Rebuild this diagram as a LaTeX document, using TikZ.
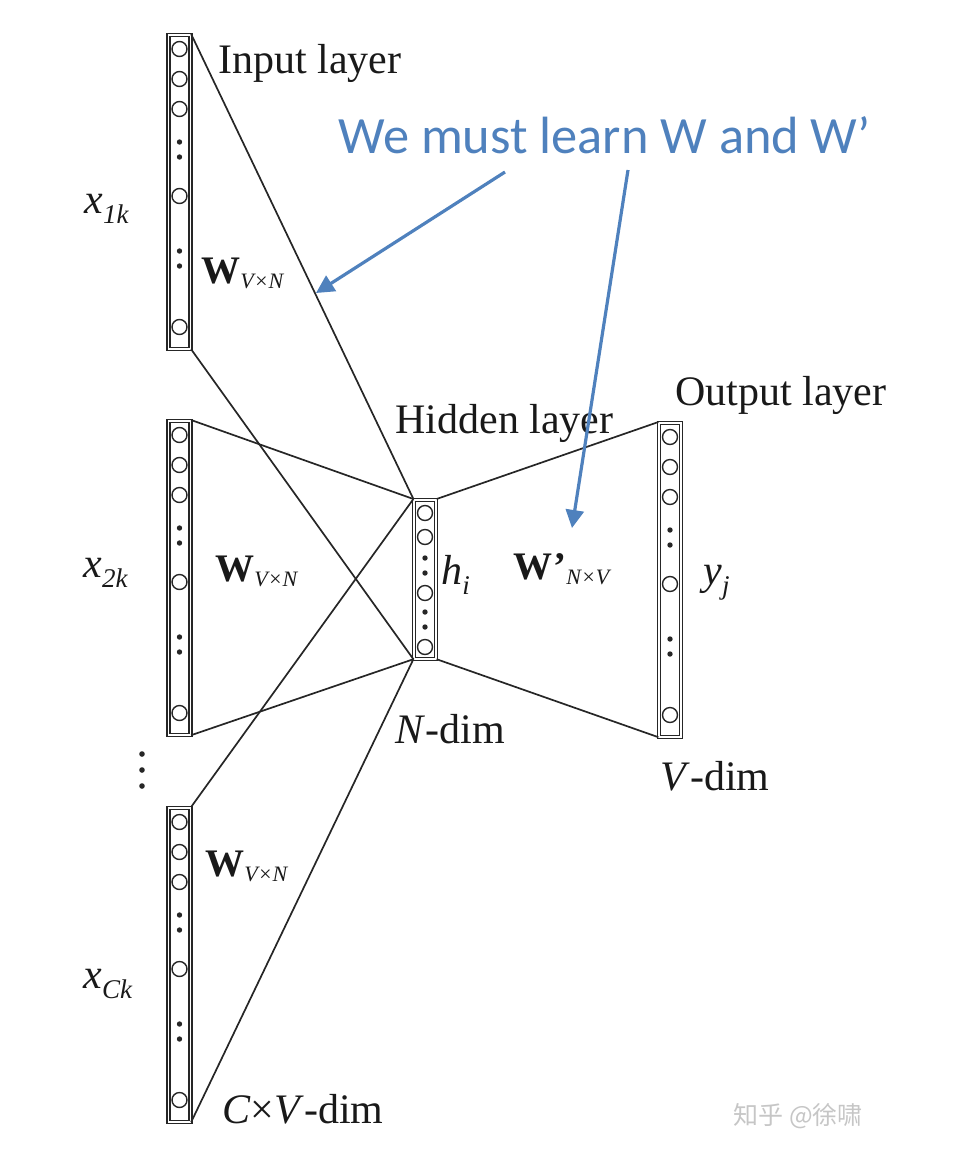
\documentclass[tikz,border=0pt]{standalone}
\usepackage{fontspec}
\setmainfont{Liberation Serif}
\newfontfamily\annfont{Carlito}
\newfontfamily\cjk{Noto Sans CJK SC}
\usetikzlibrary{arrows.meta}
\definecolor{annblue}{RGB}{79,129,189}
\newcommand\varsub[2]{\textit{#1}\raisebox{-5pt}{\fontsize{13.5}{13.5}\selectfont\itshape #2}}
\newcommand\wsub[2]{\textbf{#1}\raisebox{-2.5pt}{\fontsize{11}{11}\selectfont\itshape #2}}
\begin{document}
\begin{tikzpicture}[x=0.5pt,y=-0.5pt,
  vecbox/.style={draw=black!85, double, double distance=0.9pt, line width=0.6pt,
    minimum width=11pt, inner sep=0pt, anchor=north},
  conn/.style={black!85, line width=0.85pt},
  unit/.style={black!85, line width=0.7pt},
  lab/.style={black!90, font=\fontsize{21}{21}\selectfont, inner sep=0pt, anchor=base west},
  wlab/.style={black!90, font=\fontsize{19.5}{19.5}\selectfont, inner sep=0pt, anchor=base west},
  ann/.style={annblue, line width=1.6pt, -{Triangle[length=9pt,width=9pt]}}
]
\useasboundingbox (0,0) rectangle (964,1158);

% input layers
\node[vecbox, minimum height=157pt] (in1) at (179.5,34) {};
\node[vecbox, minimum height=157pt] (in2) at (179.5,420) {};
\node[vecbox, minimum height=157pt] (in3) at (179.5,807) {};
\foreach \t in {32,418,805}{
  \foreach \o in {17,47,77,164,295} \draw[unit] (179.5,{\t+\o}) circle[radius=7.5];
  \foreach \o in {110,125,219,234} \fill[black!85] (179.5,{\t+\o}) circle[radius=2.7];
}
% hidden layer
\node[vecbox, minimum height=79.5pt] (hid) at (425,499) {};
\foreach \o in {16,40,96,150} \draw[unit] (425,{497+\o}) circle[radius=7.5];
\foreach \o in {61,76,115,130} \fill[black!85] (425,{497+\o}) circle[radius=2.7];
% output layer
\node[vecbox, minimum height=157pt] (out) at (670,422) {};
\foreach \o in {17,47,77,164,295} \draw[unit] (670,{420+\o}) circle[radius=7.5];
\foreach \o in {110,125,219,234} \fill[black!85] (670,{420+\o}) circle[radius=2.7];

% connectors
\draw[conn] (in1.north east) -- (hid.north west);
\draw[conn] (in1.south east) -- (hid.south west);
\draw[conn] (in2.north east) -- (hid.north west);
\draw[conn] (in2.south east) -- (hid.south west);
\draw[conn] (in3.north east) -- (hid.north west);
\draw[conn] (in3.south east) -- (hid.south west);
\draw[conn] (hid.north east) -- (out.north west);
\draw[conn] (hid.south east) -- (out.south west);

% vertical ellipsis between inputs
\foreach \y in {754,770,786} \fill[black!85] (142,\y) circle[radius=2.8];

% labels
\node[lab] (tin) at (218,73) {Input layer};
\node[lab] (thid) at (395,433) {Hidden layer};
\node[lab] (tout) at (675,405) {Output layer};
\node[lab] (tndim) at (395,743) {\textit{N}-dim};
\node[lab] (tvdim) at (660,790) {\textit{V}-dim};
\node[lab] (tcv) at (222,1123) {\textit{C}×\textit{V}-dim};
\node[lab] (x1) at (84,213) {\varsub{x}{1k}};
\node[lab] (x2) at (83,577) {\varsub{x}{2k}};
\node[lab] (xc) at (83,988) {\varsub{x}{Ck}};
\node[wlab] (w1) at (201,283) {\wsub{W}{V×N}};
\node[wlab] (w2) at (215,581) {\wsub{W}{V×N}};
\node[wlab] (w3) at (205,876) {\wsub{W}{V×N}};
\node[wlab] (w4) at (513,579) {\wsub{W\kern0.5pt’}{N×V}};
\node[lab] (hi) at (441,584) {\varsub{h}{i}};
\node[lab] (yj) at (703,584) {\varsub{y}{j}};

% annotation
\node[annblue, font=\annfont\fontsize{26.2}{26.2}\selectfont, inner sep=0pt, anchor=base west] (ann) at (338,153) {We must learn W and W’};
\coordinate (a1s) at (505,172);
\coordinate (a1e) at (316,293);
\coordinate (a2s) at (628,170);
\coordinate (a2e) at (572,528);
\draw[ann] (a1s) -- (a1e);
\draw[ann] (a2s) -- (a2e);

% watermark
\node[gray!45, font=\cjk\fontsize{12.5}{12.5}\selectfont, inner sep=0pt, anchor=base west] (wm) at (733,1124) {知乎 @徐啸};
\end{tikzpicture}
\end{document}
